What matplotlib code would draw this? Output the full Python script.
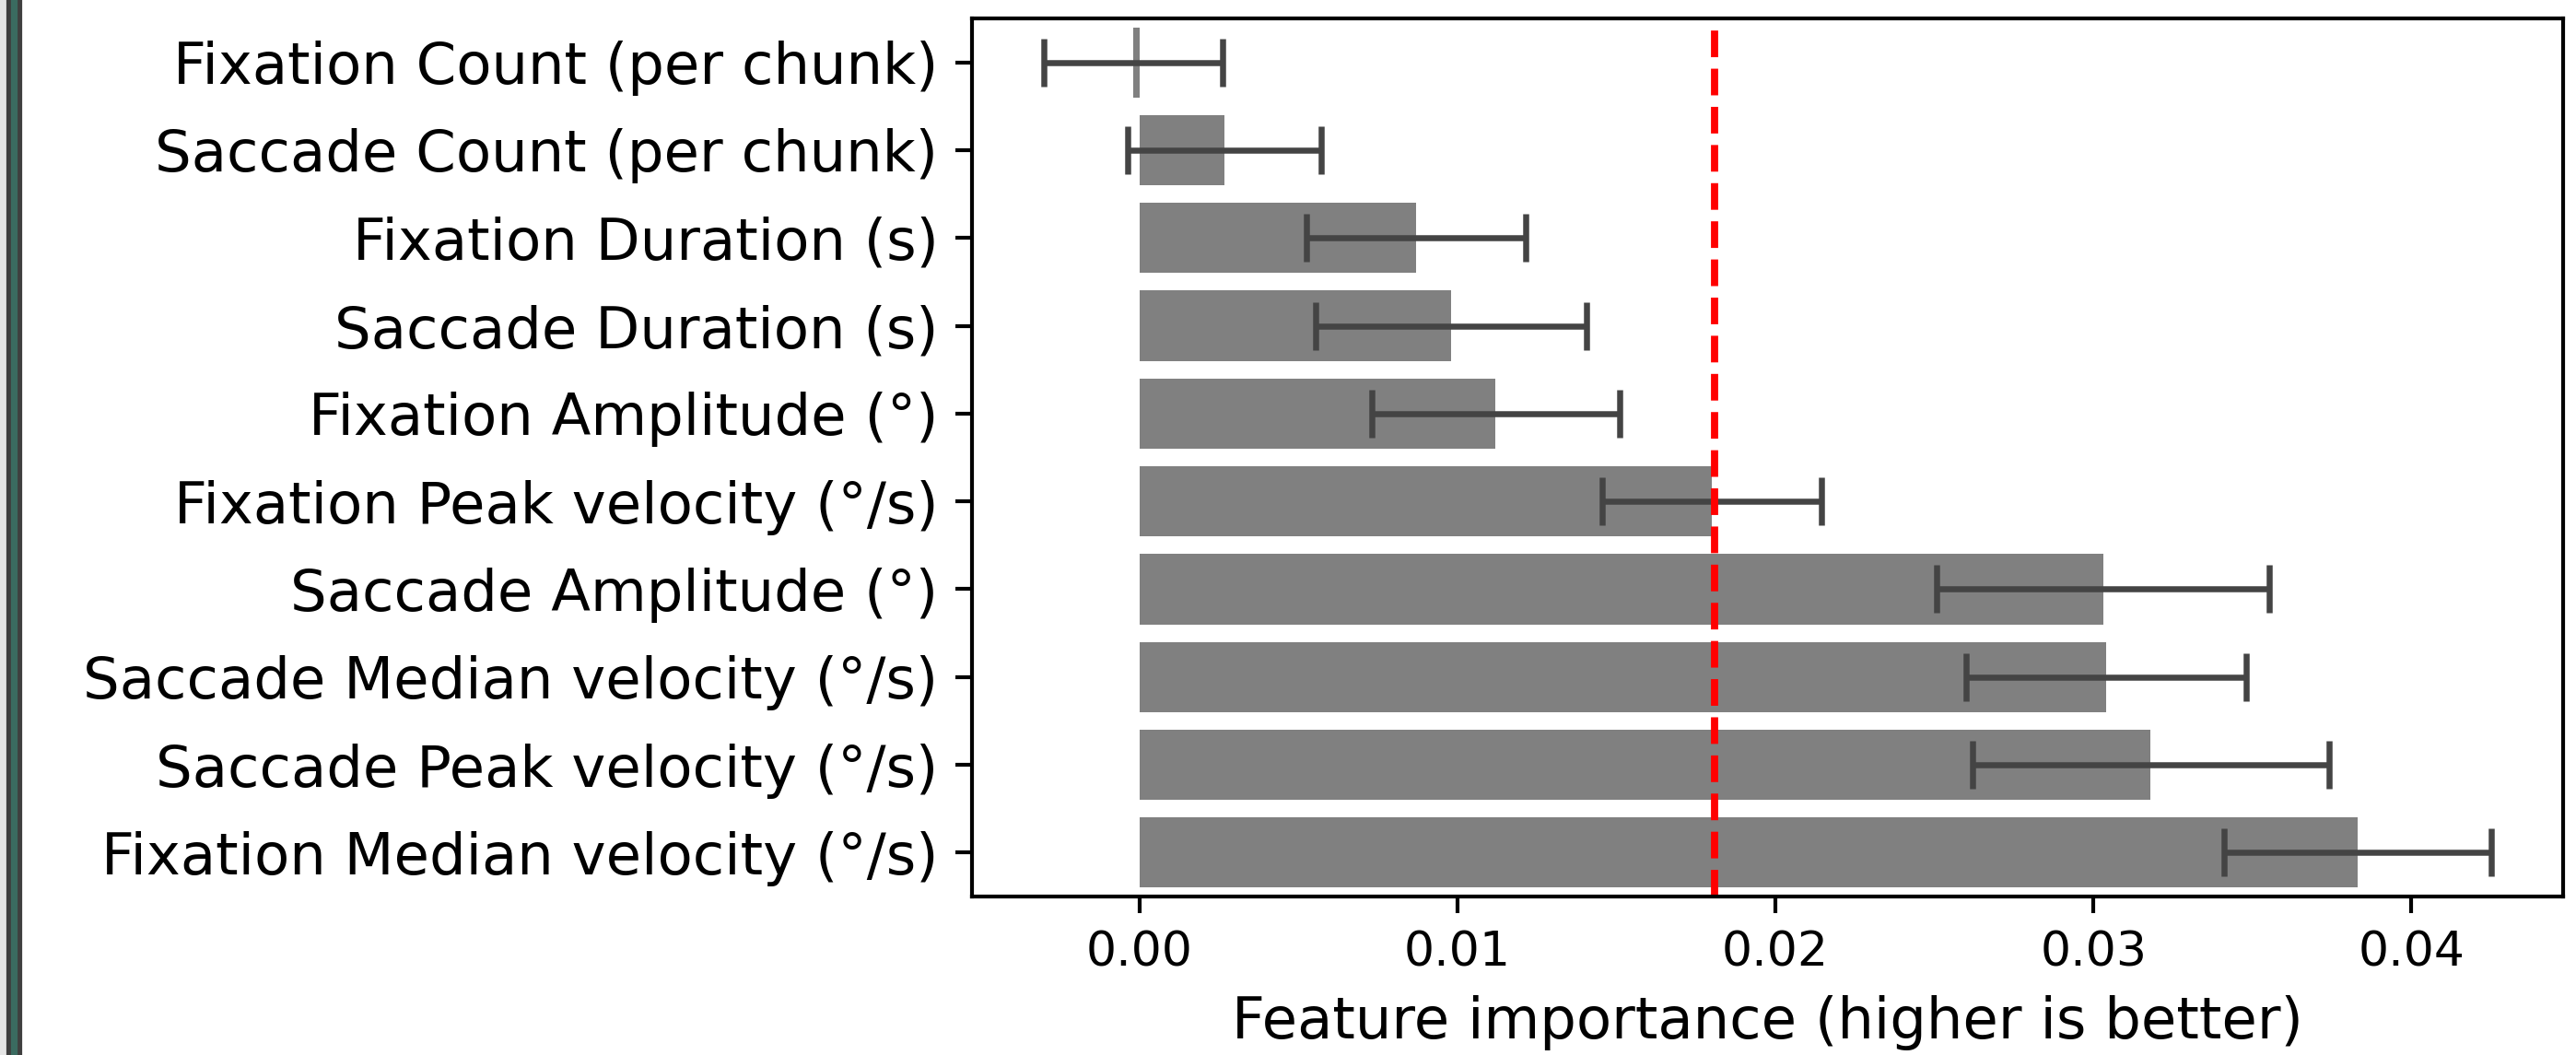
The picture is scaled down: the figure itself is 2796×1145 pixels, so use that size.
import numpy as np
import matplotlib
matplotlib.use("Agg")
import matplotlib.pyplot as plt
from matplotlib.patches import Rectangle

# feature names, top to bottom
features = [
    "Fixation Count (per chunk)",
    "Saccade Count (per chunk)",
    "Fixation Duration (s)",
    "Saccade Duration (s)",
    "Fixation Amplitude (°)",
    "Fixation Peak velocity (°/s)",
    "Saccade Amplitude (°)",
    "Saccade Median velocity (°/s)",
    "Saccade Peak velocity (°/s)",
    "Fixation Median velocity (°/s)",
]

# permutation importance mean / std
imp_mean = [-0.0002, 0.00266, 0.0087, 0.0098, 0.0112, 0.0180, 0.0303, 0.0304, 0.0318, 0.0383]
imp_std = [0.0028, 0.00304, 0.00344, 0.00427, 0.0039, 0.00344, 0.00524, 0.0044, 0.0056, 0.0042]

dpi = 375
fig = plt.figure(figsize=(2796 / dpi, 1145 / dpi), dpi=dpi)
ax = fig.add_axes([0.3773, 0.1502, 0.995 - 0.3773, 0.9825 - 0.1502])

ypos = np.arange(len(features))
ax.barh(ypos, imp_mean, height=0.8, color="gray",
        xerr=imp_std,
        error_kw=dict(ecolor="#444444", elinewidth=1.25, capsize=5, capthick=1.25))
# mean importance line
ax.axvline(np.mean(imp_mean), color="red", linestyle="--", linewidth=1.5)

ax.set_yticks(ypos)
ax.set_yticklabels(features, fontsize=12)
ax.set_ylim(len(features) - 0.5, -0.5)
ax.tick_params(axis="x", labelsize=10)
ax.set_xlabel("Feature importance (higher is better)", fontsize=12)

# window border strip on the left edge of the screenshot
fig.patches.append(Rectangle((0, 0), 9 / 2796, 1, transform=fig.transFigure,
                             color="#e6e6e6", zorder=-1))
fig.patches.append(Rectangle((9 / 2796, 0), 12 / 2796, 1, transform=fig.transFigure,
                             color="#3f3f3f", zorder=-1))
fig.patches.append(Rectangle((14 / 2796, 0), 2 / 2796, 1, transform=fig.transFigure,
                             color="#3a6b60", zorder=0))

fig.savefig("out.png", dpi=dpi)
